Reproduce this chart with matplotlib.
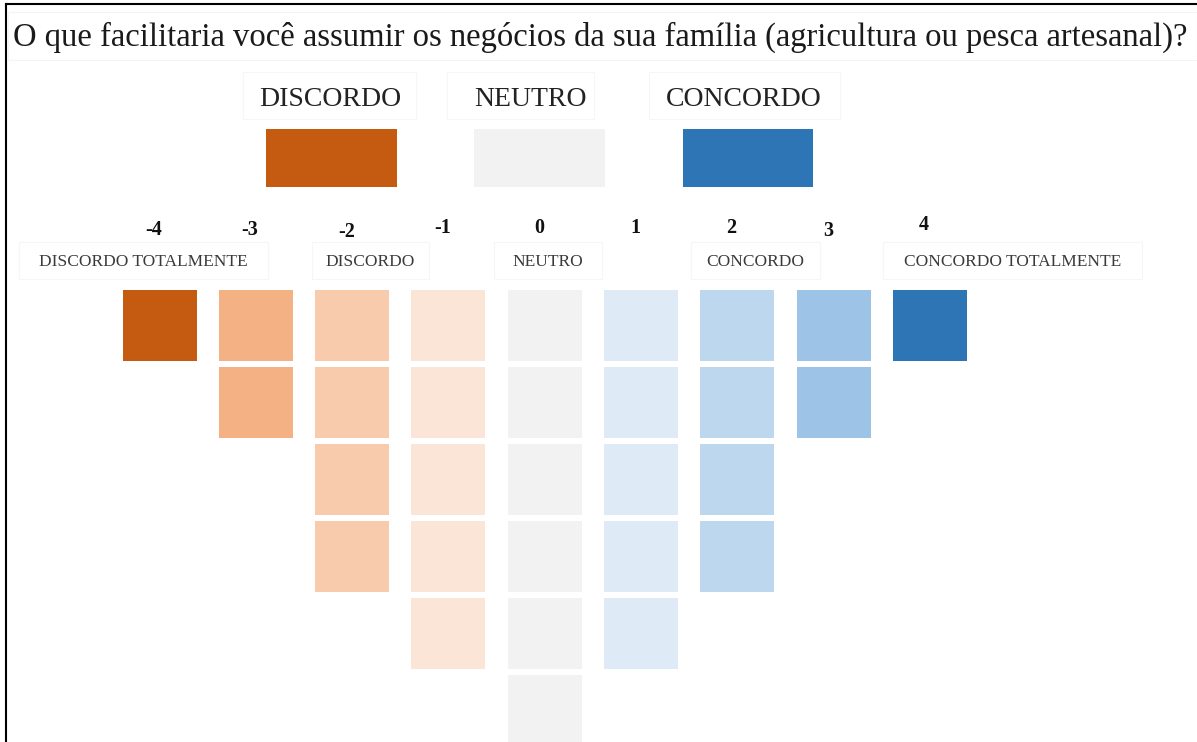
import matplotlib
matplotlib.use("Agg")
import matplotlib.pyplot as plt
from matplotlib.patches import Rectangle
import numpy as np

# ---- data ----
scores = [-4, -3, -2, -1, 0, 1, 2, 3, 4]
counts = [1, 2, 4, 5, 6, 5, 4, 2, 1]
colors = ["#C55A11", "#F4B183", "#F8CBAD", "#FBE5D6", "#F2F2F2",
          "#DEEBF7", "#BDD7EE", "#9DC3E6", "#2E75B6"]
score_labels = ["-4", "-3", "-2", "-1", "0", "1", "2", "3", "4"]
group_labels = ["DISCORDO TOTALMENTE", "DISCORDO", "NEUTRO", "CONCORDO", "CONCORDO TOTALMENTE"]
legend_labels = ["DISCORDO", "NEUTRO", "CONCORDO"]
legend_colors = ["#C55A11", "#F2F2F2", "#2E75B6"]
title = "O que facilitaria você assumir os negócios da sua família (agricultura ou pesca artesanal)?"

W, H = 1197, 742
SERIF = ["Liberation Serif", "DejaVu Serif"]

fig = plt.figure(figsize=(W / 100, H / 100), dpi=100)

def fx(px):
    return px / W

def fy(py):
    return 1 - py / H

# ---- main grid axes (whole figure, column units) ----
ax = fig.add_axes([0, 0, 1, 1])
ax.set_axis_off()
unit_x = 96.31
c0 = 159.5
unit_y = 77.0
r0 = 325.5
ax.set_xlim(-4 - c0 / unit_x, -4 + (W - c0) / unit_x)
ax.set_ylim((H - r0) / unit_y, -r0 / unit_y)

bx, bb, bc = [], [], []
for s, n, c in zip(scores, counts, colors):
    for r in range(n):
        bx.append(s)
        bb.append(r)
        bc.append(c)
bx = np.array(bx, float)
bb = np.array(bb, float)
h = 71 / unit_y
ax.bar(bx, h, width=74 / unit_x, bottom=bb - h / 2, color=bc, linewidth=0)

# score numbers
num_y = [230, 230, 232, 228, 228, 228, 228, 231, 225]
for s, lab, yy in zip(scores, score_labels, num_y):
    ax.text(s - 0.06, (yy - r0) / unit_y, lab, ha="center", va="center",
            fontsize=14.5, fontweight="bold", family=SERIF, color="#111111")

# group labels with faint boxes
group_boxes = [(19, 268), (312, 429), (494, 602), (691, 820), (883, 1142)]
for lab, (l, rr) in zip(group_labels, group_boxes):
    fig.patches.append(Rectangle((fx(l), fy(279)), fx(rr - l), 37 / H,
                                 transform=fig.transFigure, fill=False,
                                 edgecolor="#f6f6f6", linewidth=0.8))
    fig.text(fx((l + rr) / 2), fy(262), lab, ha="center", va="center",
             fontsize=12.5, family=SERIF, color="#3a3a3a")

# ---- legend ----
lax = fig.add_axes([fx(266), fy(187), fx(813 - 266), 58 / H])
lax.set_axis_off()
lu = 208.25
lax.set_xlim(-65.5 / lu, 2 + (547 - 482) / lu)
lax.set_ylim(0, 1)
lax.bar(range(len(legend_labels)), 1, width=131 / lu, bottom=0,
        color=legend_colors, linewidth=0)

leg_boxes = [(243, 416), (447, 594), (649, 840)]
leg_cx = [330, 530, 744]
for lab, (l, rr), cx in zip(legend_labels, leg_boxes, leg_cx):
    fig.patches.append(Rectangle((fx(l), fy(119)), fx(rr - l), 47 / H,
                                 transform=fig.transFigure, fill=False,
                                 edgecolor="#f6f6f6", linewidth=0.8))
    fig.text(fx(cx), fy(99), lab, ha="center", va="center",
             fontsize=20, family=SERIF, color="#222222")

# ---- title ----
fig.patches.append(Rectangle((fx(8), fy(60)), fx(1189), 48 / H,
                             transform=fig.transFigure, fill=False,
                             edgecolor="#f4f4f4", linewidth=0.8))
fig.text(fx(600), fy(37), title, ha="center", va="center",
         fontsize=23.5, family=SERIF, color="#1a1a1a")

# borders
fig.add_artist(plt.Line2D([fx(6), 1], [fy(4), fy(4)], transform=fig.transFigure,
                          color="black", linewidth=1.5))
fig.add_artist(plt.Line2D([fx(6), fx(6)], [fy(4), 0], transform=fig.transFigure,
                          color="black", linewidth=1.5))

fig.savefig("out.png", dpi=100, facecolor="white")
